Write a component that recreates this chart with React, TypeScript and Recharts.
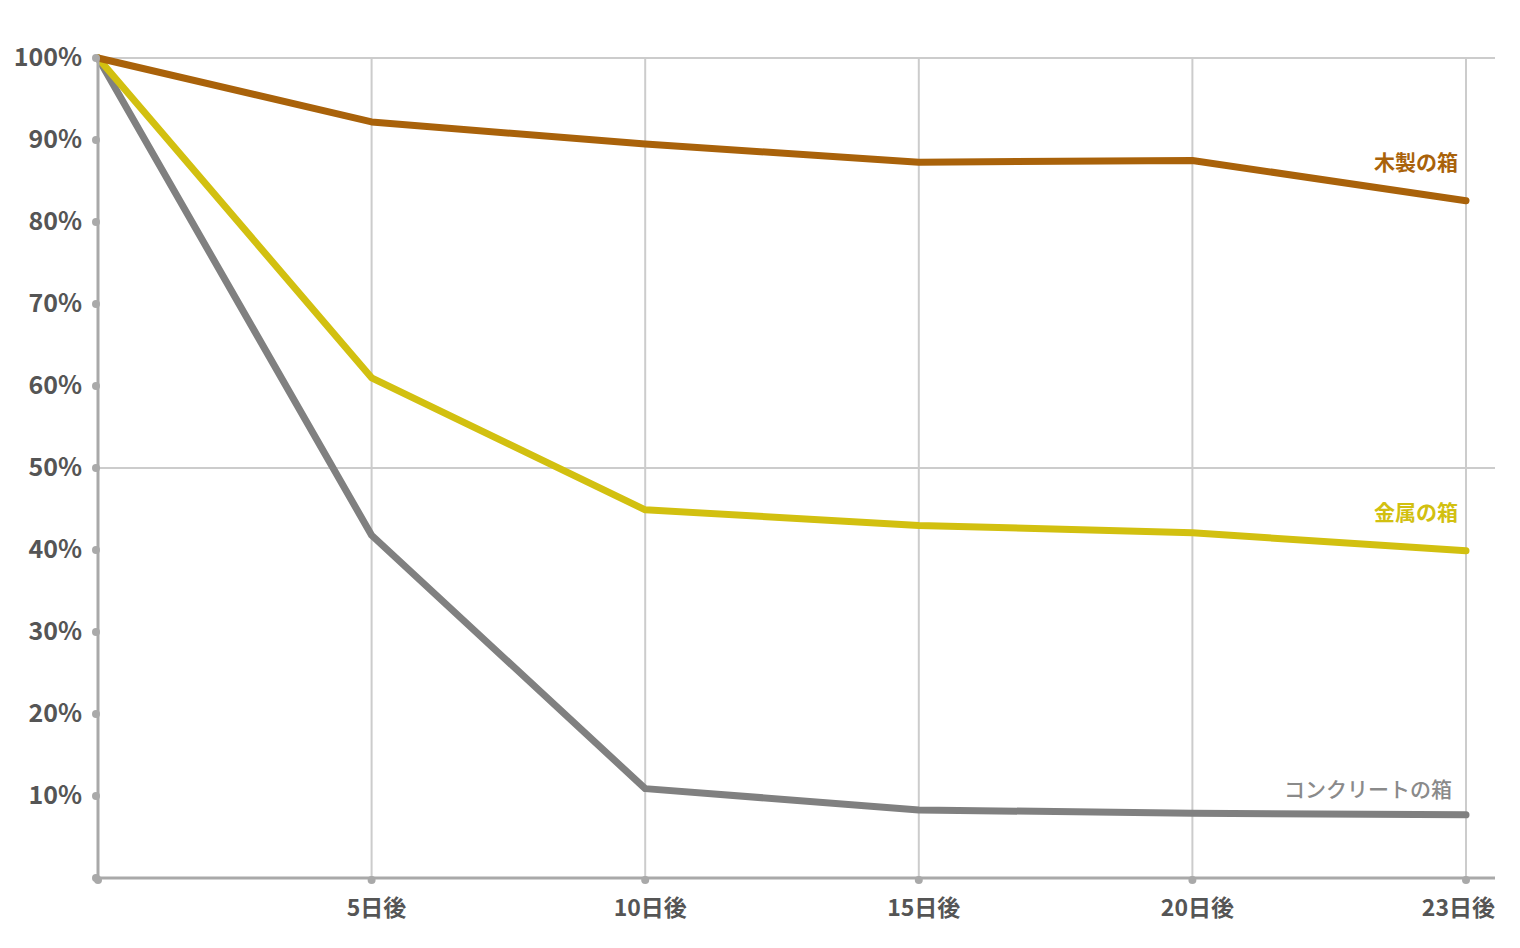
import { LineChart, Line, XAxis, YAxis, CartesianGrid, LabelList } from 'recharts';

const days = ['', '5日後', '10日後', '15日後', '20日後', '23日後'];
const wood = [100, 92.2, 89.5, 87.3, 87.5, 82.6];
const metal = [100, 61, 44.9, 43, 42.1, 39.9];
const concrete = [100, 41.8, 10.9, 8.3, 7.9, 7.7];
const yTicks = [0, 10, 20, 30, 40, 50, 60, 70, 80, 90, 100];

const seriesNames = {
  wood: '木製の箱',
  metal: '金属の箱',
  concrete: 'コンクリートの箱'
};

const data = days.map((d, i) => ({
  day: d,
  wood: wood[i],
  metal: metal[i],
  concrete: concrete[i]
}));

const FONT = '"Noto Sans CJK JP", "Noto Sans", sans-serif';
const AXIS = '#a9a9a9';

const YTick = (props: any) => {
  const { x, y, payload } = props;
  return (
    <g>
      <circle cx={x} cy={y} r={4} fill={AXIS} />
      {payload.value > 0 && (
        <text x={x - 14} y={y} dy={8} textAnchor="end" fontSize={25} fontWeight={700} fill="#555" fontFamily={FONT}>
          {payload.value}%
        </text>
      )}
    </g>
  );
};

const XTick = (props: any) => {
  const { x, y, payload, index } = props;
  // the last label is pulled in so it ends at the plot edge
  const last = index === days.length - 1;
  return (
    <g>
      <circle cx={x} cy={y} r={4} fill={AXIS} />
      <text
        x={last ? x + 29 : x + 5}
        y={y + 36}
        textAnchor={last ? 'end' : 'middle'}
        fontSize={23}
        fontWeight={700}
        fill="#555"
        fontFamily={FONT}
      >
        {payload.value}
      </text>
    </g>
  );
};

const endLabel = (text: string, color: string, dx: number, dy: number, weight: number) => (props: any) => {
  const { x, y, index } = props;
  if (index !== days.length - 1) return null;
  return (
    <text x={x + dx} y={y + dy} textAnchor="end" fontSize={21} fontWeight={weight} fill={color} fontFamily={FONT}>
      {text}
    </text>
  );
};

export default function App() {
  return (
    <LineChart width={1512} height={940} data={data} margin={{ top: 50, right: 25, left: 0, bottom: 30 }}>
      <CartesianGrid stroke="#cccccc" strokeWidth={2} horizontalValues={[50, 100]} verticalValues={days.slice(1)} />
      <XAxis
        dataKey="day"
        padding={{ left: 0, right: 29 }}
        axisLine={{ stroke: AXIS, strokeWidth: 3 }}
        tickLine={false}
        tickSize={0}
        tick={<XTick />}
        interval={0}
        height={40}
      />
      <YAxis
        domain={[0, 100]}
        ticks={yTicks}
        width={90}
        axisLine={{ stroke: AXIS, strokeWidth: 3 }}
        tickLine={false}
        tickSize={0}
        tick={<YTick />}
        interval={0}
      />
      <Line dataKey="concrete" stroke="#808080" strokeWidth={7} strokeLinecap="round" strokeLinejoin="round" dot={false} isAnimationActive={false}>
        <LabelList dataKey="concrete" content={endLabel(seriesNames.concrete, '#8a8a8a', -14, -18, 500)} />
      </Line>
      <Line dataKey="metal" stroke="#d2c010" strokeWidth={7} strokeLinecap="round" strokeLinejoin="round" dot={false} isAnimationActive={false}>
        <LabelList dataKey="metal" content={endLabel(seriesNames.metal, '#d2c010', -8, -31, 700)} />
      </Line>
      <Line dataKey="wood" stroke="#a9620a" strokeWidth={7} strokeLinecap="round" strokeLinejoin="round" dot={false} isAnimationActive={false}>
        <LabelList dataKey="wood" content={endLabel(seriesNames.wood, '#a9620a', -8, -31, 700)} />
      </Line>
    </LineChart>
  );
}
